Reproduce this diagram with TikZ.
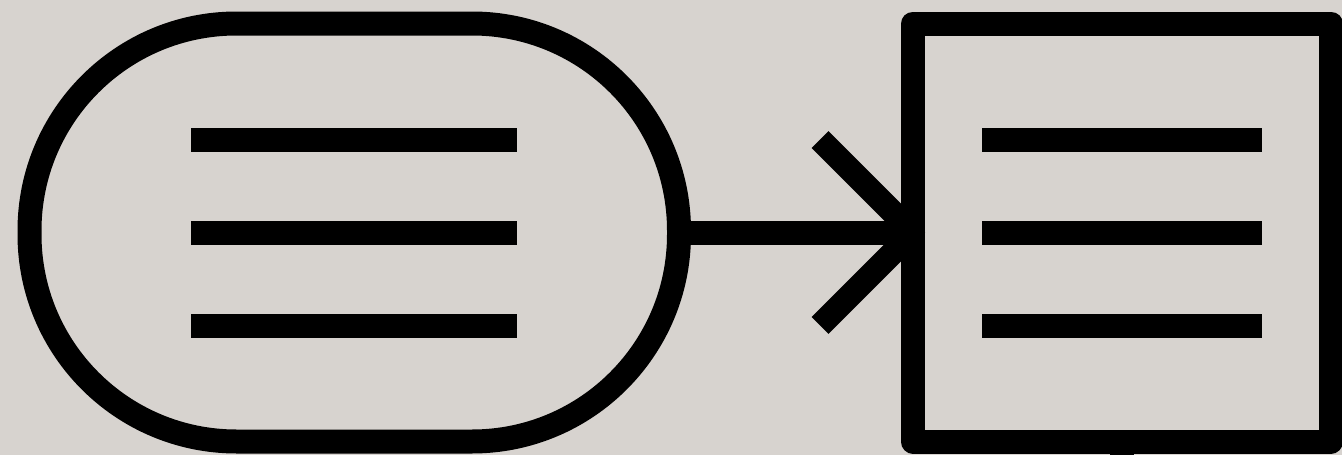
\documentclass[tikz,border=0pt]{standalone}
\usetikzlibrary{arrows.meta,calc}
\definecolor{paper}{RGB}{215,211,207}

\begin{document}
\begin{tikzpicture}[
  x=1pt,y=-1pt,
  every node/.style={line width=24pt,outer sep=0pt,inner sep=0pt},
  pill/.style={draw,rounded corners=207pt,minimum width=649.5pt,minimum height=418pt},
  card/.style={draw,line join=round,minimum width=418pt,minimum height=418pt},
  bar/.style={line width=24pt},
  link/.style={line width=24pt,shorten >=-12pt,
    -{Straight Barb[length=93pt,width=186pt,line cap=butt,line join=round]}}
]
  \fill[paper] (0,0) rectangle (1342,455);
  \clip (0,0) rectangle (1342,455);
  \node[pill] (src) at (354.25,232.5) {};
  \node[card] (dst) at (1122,232.5) {};
  \coordinate (down) at ($(dst.south)+(0,30)$);
  \foreach \dy in {-93,0,93} {
    \draw[bar] ($(src)+(-163,\dy)$) -- ++(326,0);
    \draw[bar] ($(dst)+(-140,\dy)$) -- ++(280,0);
  }
  \draw[link] (src) -- (dst);
  \draw[bar] (dst.south) -- (down);
\end{tikzpicture}
\end{document}
